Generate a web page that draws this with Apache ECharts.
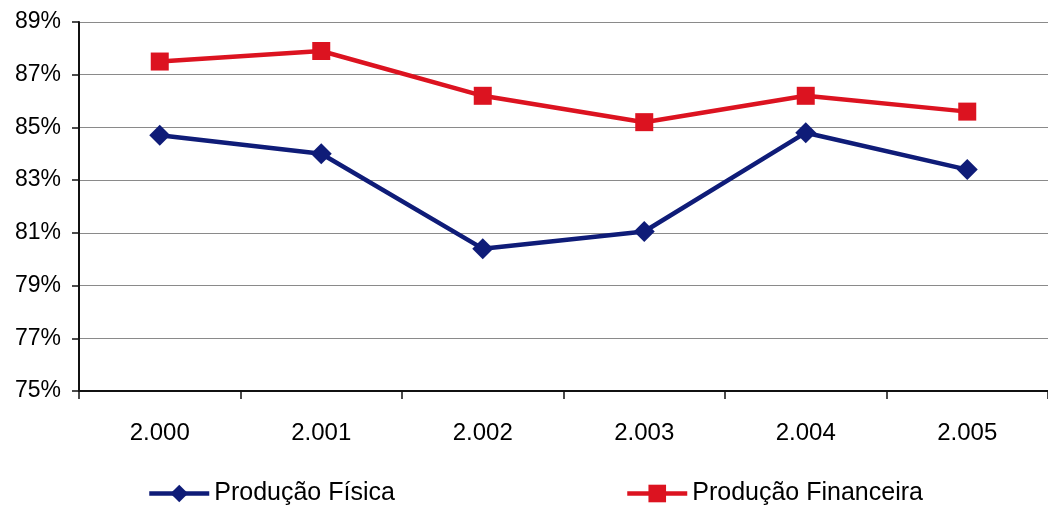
<!DOCTYPE html>
<html>
<head>
<meta charset="utf-8">
<script src="https://cdn.jsdelivr.net/npm/echarts@6/dist/echarts.min.js"></script>
<style>
  html, body { margin: 0; padding: 0; background: #fff; }
  #chart { width: 1048px; height: 509px; }
</style>
</head>
<body>
<div id="chart"></div>
<script>
// Anos e percentuais de produção
const years = ['2.000', '2.001', '2.002', '2.003', '2.004', '2.005'];
const producaoFisica = [84.7, 84.0, 80.4, 81.05, 84.8, 83.4];
const producaoFinanceira = [87.5, 87.9, 86.2, 85.2, 86.2, 85.6];
const yMin = 75, yMax = 89, yStep = 2;

const FONT = '"Liberation Sans", Arial, sans-serif';
const BLUE = '#0f1c78';
const RED = '#dc1320';

const chart = echarts.init(document.getElementById('chart'), null, { renderer: 'canvas' });

const legendBase = {
  top: 481,
  padding: 0,
  itemWidth: 60, itemHeight: 22, itemGap: 0,
  lineStyle: { width: 4.5 },
  textStyle: { fontFamily: FONT, fontSize: 25, color: '#000', padding: [0, 0, 0, 0] }
};

chart.setOption({
  animation: false,
  backgroundColor: '#ffffff',
  grid: { left: 79, top: 22, width: 972, height: 369, containLabel: false },
  legend: [
    Object.assign({ data: ['Produção Física'], left: 147 }, legendBase),
    Object.assign({ data: ['Produção Financeira'], left: 625 }, legendBase)
  ],
  xAxis: {
    type: 'category',
    data: years,
    boundaryGap: true,
    axisLine: { lineStyle: { color: '#111', width: 2 } },
    axisTick: { show: true, length: 8, lineStyle: { color: '#111', width: 1.5 } },
    axisLabel: { fontFamily: FONT, fontSize: 24, color: '#000', margin: 30 }
  },
  yAxis: {
    type: 'value',
    min: yMin, max: yMax, interval: yStep,
    axisLine: { show: true, lineStyle: { color: '#111', width: 2 } },
    axisTick: { show: true, length: 7, lineStyle: { color: '#111', width: 1.5 } },
    axisLabel: { fontFamily: FONT, fontSize: 23, color: '#000', margin: 18, formatter: v => v + '%' },
    splitLine: { show: true, lineStyle: { color: '#8a8a8a', width: 1.2 } }
  },
  series: [
    {
      name: 'Produção Física',
      type: 'line',
      data: producaoFisica,
      symbol: 'diamond',
      symbolSize: 21,
      color: BLUE,
      lineStyle: { width: 4.5, color: BLUE },
      itemStyle: { color: BLUE }
    },
    {
      name: 'Produção Financeira',
      type: 'line',
      data: producaoFinanceira,
      symbol: 'rect',
      symbolSize: 18,
      color: RED,
      lineStyle: { width: 4.5, color: RED },
      itemStyle: { color: RED }
    }
  ]
});
</script>
</body>
</html>
